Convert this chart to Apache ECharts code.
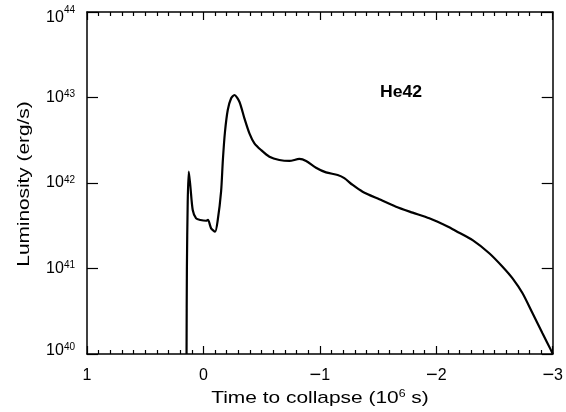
<!DOCTYPE html>
<html>
<head>
<meta charset="utf-8">
<script src="https://cdn.jsdelivr.net/npm/echarts@6/dist/echarts.min.js"></script>
<style>html,body{margin:0;padding:0;background:#fff}#c{width:566px;height:412px}</style>
</head>
<body>
<div id="c"></div>
<script>
// Time to collapse (10^6 s)
const times = [0.145,0.142,0.135,0.126,0.112,0.092,0.063,0.026,-0.023,-0.039,-0.066,-0.100,-0.123,-0.152,-0.167,-0.185,-0.209,-0.238,-0.266,-0.309,-0.352,-0.395,-0.438,-0.495,-0.567,-0.652,-0.738,-0.824,-0.882,-0.967,-1.053,-1.153,-1.210,-1.282,-1.367,-1.511,-1.654,-1.797,-1.940,-2.097,-2.169,-2.312,-2.455,-2.569,-2.655,-2.741,-2.827,-2.912,-2.985,-3.0];
// Luminosity (erg/s)
const luminosity = [1e40,1e41,6e41,1.36e42,9.1e41,4.83e41,3.86e41,3.69e41,3.62e41,3.70e41,2.95e41,2.69e41,3.69e41,8.05e41,1.86e42,3.95e42,7.14e42,9.79e42,1.07e43,8.93e42,5.71e42,3.81e42,2.91e42,2.43e42,2.03e42,1.86e42,1.81e42,1.91e42,1.81e42,1.51e42,1.33e42,1.24e42,1.14e42,9.48e41,7.91e41,6.44e41,5.28e41,4.50e41,3.86e41,3.10e41,2.75e41,2.15e41,1.51e41,1.05e41,7.67e40,5.13e40,2.99e40,1.75e40,1.11e40,1.0e40];
const xTickLabels = {'1':'{d|1}','0':'{d|0}','-1':'{m|\u2212}{d|1}','-2':'{m|\u2212}{d|2}','-3':'{m|\u2212}{d|3}'};
const seriesLabel = 'He42';
const xTitle = 'Time to collapse (10';
const xTitleSup = '6';
const xTitleEnd = ' s)';
const yTitle = 'Luminosity (erg/s)';

const FONT = 'Liberation Sans';
const chart = echarts.init(document.getElementById('c'), null, {renderer:'canvas'});
const data = times.map((t,i)=>[t, luminosity[i]]);
const axisLine = {show:true, onZero:false, lineStyle:{color:'#000', width:1.5}};
const tickStyle = {color:'#000', width:1.2};
function yLabel(v){
  const e = Math.round(Math.log10(v));
  if (e === 44) return '{bt|10}{st|'+e+'}';
  if (e === 40) return '{bb|10}{sb|'+e+'}';
  return '{b|10}{s|'+e+'}';
}
const option = {
  animation:false,
  backgroundColor:'#fff',
  grid:{left:87, right:13, top:12, bottom:58, containLabel:false},
  xAxis:[{
    type:'value', min:-3, max:1, interval:1, inverse:true, position:'bottom',
    axisLine:axisLine,
    axisTick:{show:true, inside:true, length:8, lineStyle:tickStyle},
    minorTick:{show:true, splitNumber:10, length:4, lineStyle:tickStyle},
    splitLine:{show:false},
    axisLabel:{color:'#000', fontFamily:FONT, fontSize:16, margin:13, lineHeight:18,
      formatter:v=>xTickLabels[String(Math.round(v))],
      rich:{m:{fontFamily:FONT, fontSize:20, color:'#000', lineHeight:18, padding:[0,0,1,0]},
            d:{fontFamily:FONT, fontSize:16, color:'#000', lineHeight:18}}}
  },{
    type:'value', min:-3, max:1, interval:1, inverse:true, position:'top',
    axisLine:axisLine,
    axisTick:{show:true, inside:true, length:8, lineStyle:tickStyle},
    minorTick:{show:true, splitNumber:10, length:4, lineStyle:tickStyle},
    splitLine:{show:false}, axisLabel:{show:false}
  }],
  yAxis:[{
    type:'log', logBase:10, min:1e40, max:1e44, splitNumber:4, position:'left',
    axisLine:axisLine,
    axisTick:{show:true, inside:true, length:11, lineStyle:tickStyle},
    splitLine:{show:false},
    axisLabel:{margin:12, formatter:yLabel,
      rich:{b:{fontFamily:FONT, fontSize:16, color:'#000'},
        s:{fontFamily:FONT, fontSize:10, color:'#000', verticalAlign:'top', padding:[0,0,5,0]},
        bt:{fontFamily:FONT, fontSize:16, color:'#000', padding:[12,0,0,0]},
        st:{fontFamily:FONT, fontSize:10, color:'#000', verticalAlign:'top', padding:[7,0,0,0]},
        bb:{fontFamily:FONT, fontSize:16, color:'#000', padding:[0,0,7,0]},
        sb:{fontFamily:FONT, fontSize:10, color:'#000', verticalAlign:'top', padding:[0,0,12,0]}}}
  },{
    type:'log', logBase:10, min:1e40, max:1e44, splitNumber:4, position:'right',
    axisLine:axisLine,
    axisTick:{show:true, inside:true, length:11, lineStyle:tickStyle},
    splitLine:{show:false}, axisLabel:{show:false}
  }],
  graphic:[
    {type:'text', x:25, y:184, rotation:Math.PI/2, scaleX:1.3,
      style:{text:yTitle, fontFamily:FONT, fontSize:16, fill:'#000', align:'center', verticalAlign:'middle'}},
    {type:'text', x:320, y:398, scaleX:1.23,
      style:{text:'{a|'+xTitle+'}{s|'+xTitleSup+'}{a|'+xTitleEnd+'}', align:'center', verticalAlign:'middle',
        rich:{a:{fontFamily:FONT, fontSize:17, fill:'#000', color:'#000'},
          s:{fontFamily:FONT, fontSize:10, fill:'#000', color:'#000', verticalAlign:'top', padding:[0,0,6,0]}}}},
    {type:'text', x:401, y:93, scaleX:1.1,
      style:{text:seriesLabel, fontFamily:FONT, fontSize:16, fontWeight:'bold', fill:'#000', align:'center', verticalAlign:'middle'}}
  ],
  series:[{
    type:'line', xAxisIndex:0, yAxisIndex:0, data:data, showSymbol:false, smooth:0.25,
    lineStyle:{color:'#000', width:2.2}, clip:true
  }]
};
chart.setOption(option);
</script>
</body>
</html>
